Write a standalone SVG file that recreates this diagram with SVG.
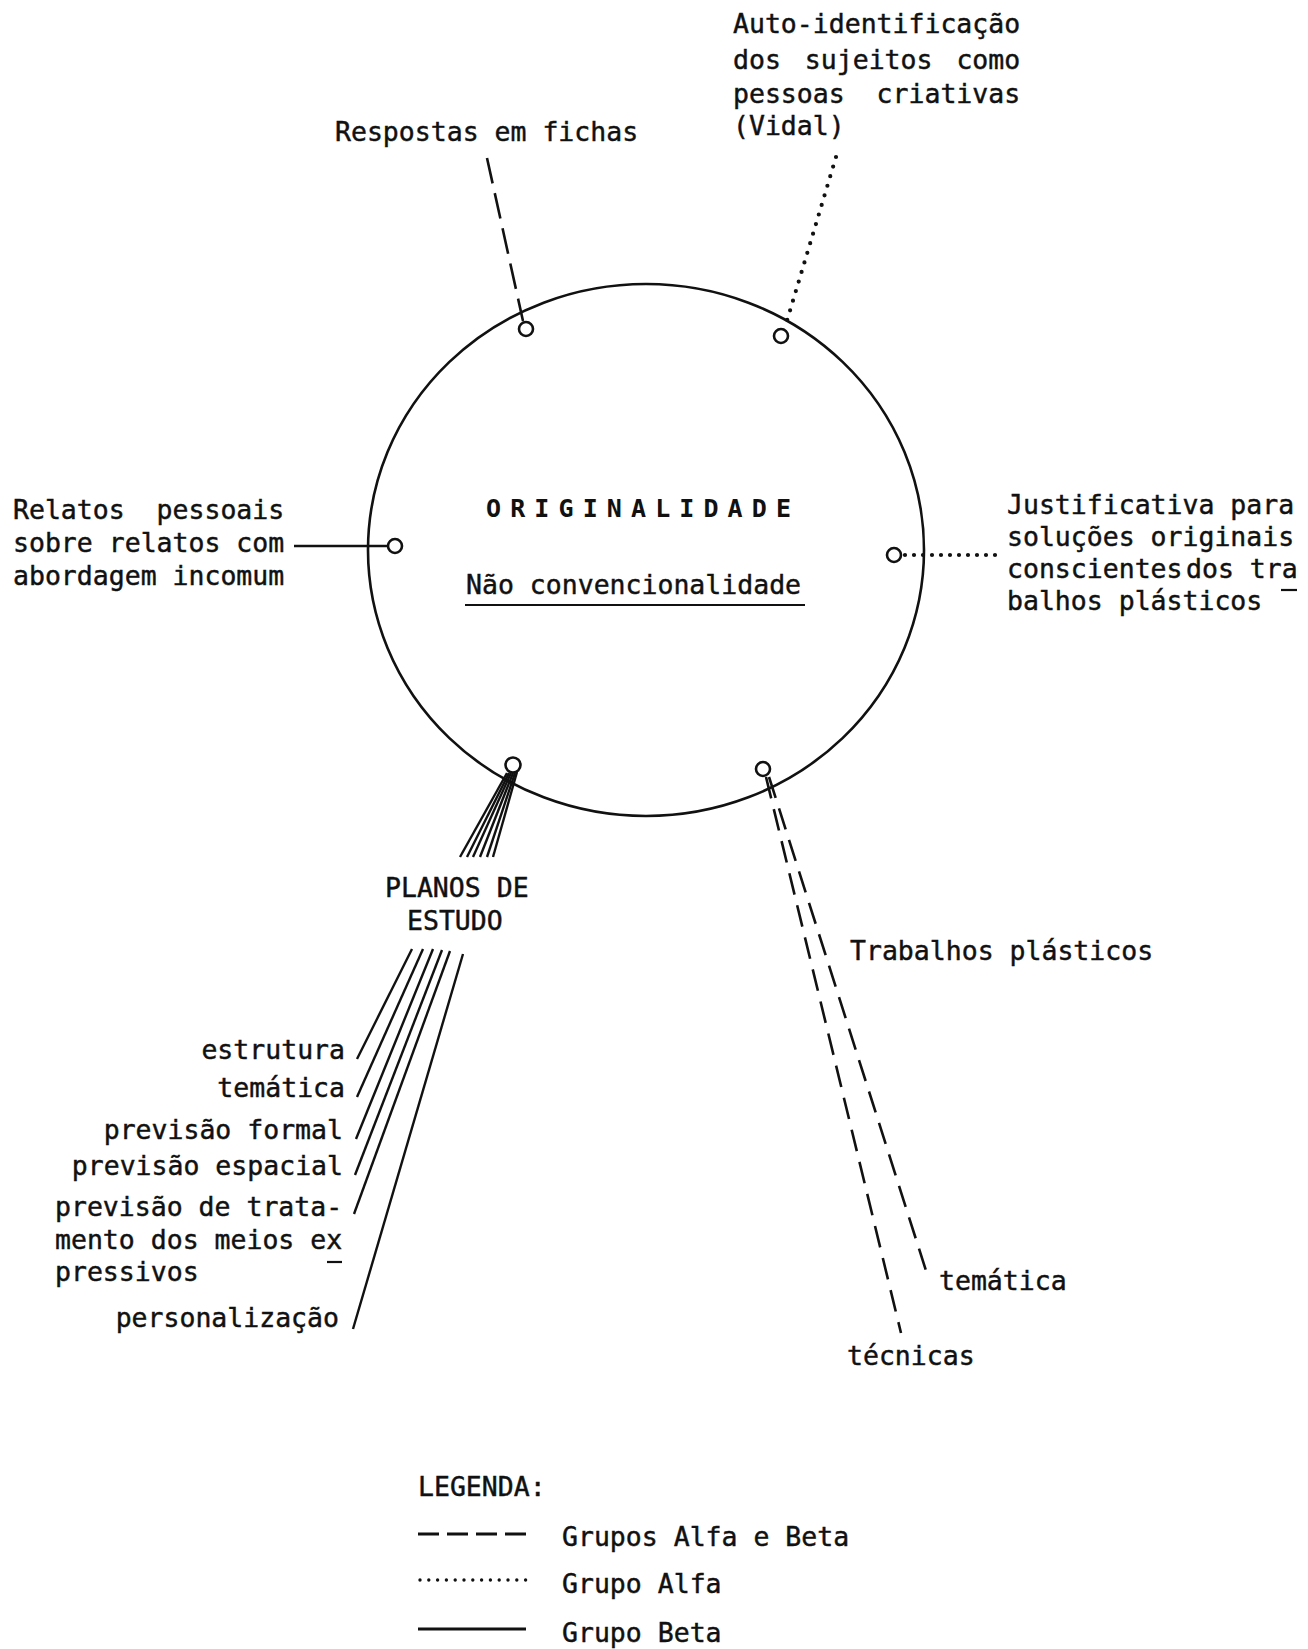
<svg xmlns="http://www.w3.org/2000/svg" width="1308" height="1649" viewBox="0 0 1308 1649">
<style>
text{font-family:"DejaVu Sans Mono","Liberation Mono",monospace;font-size:26.5px;fill:#111;stroke:#111;stroke-width:0.45}
.end{text-anchor:end}
.port{fill:#fff;stroke:#111;stroke-width:2.6}
.main{fill:none;stroke:#111;stroke-width:2.6}
.solid{stroke:#111;stroke-width:2.4;fill:none}
.dash{stroke:#111;stroke-width:2.6;fill:none;stroke-dasharray:26 10}
.dot{stroke:#111;stroke-width:4.2;fill:none;stroke-dasharray:0 10;stroke-linecap:round}
.mark{stroke:#111;stroke-width:2.2}
</style>
<rect width="1308" height="1649" fill="#fff"/>

<g id="connectors">
  <line class="dash" x1="487" y1="158" x2="523" y2="321"/>
  <line class="dot" x1="836" y1="157" x2="786" y2="324"/>
  <line class="solid" x1="294" y1="546" x2="388" y2="546"/>
  <line class="dot" x1="905" y1="555" x2="999" y2="555" style="stroke-dasharray:0 9"/>
  <g class="solid">
    <line x1="507" y1="773" x2="460" y2="857"/>
    <line x1="509" y1="773" x2="467" y2="857"/>
    <line x1="511" y1="773" x2="473" y2="857"/>
    <line x1="513" y1="773" x2="480" y2="857"/>
    <line x1="515" y1="773" x2="487" y2="857"/>
    <line x1="517" y1="772" x2="493" y2="857"/>
    <line x1="412" y1="949" x2="357" y2="1059"/>
    <line x1="423" y1="949" x2="357" y2="1097"/>
    <line x1="433" y1="949" x2="356" y2="1139"/>
    <line x1="442" y1="950" x2="355" y2="1175"/>
    <line x1="450" y1="951" x2="354" y2="1214"/>
    <line x1="463" y1="954" x2="353" y2="1329"/>
  </g>
  <line class="dash" x1="766" y1="777" x2="901" y2="1333" style="stroke-dasharray:22 11"/>
  <line class="dash" x1="769" y1="777" x2="928" y2="1277" style="stroke-dasharray:22 11"/>
</g>

<g id="originalidade">
  <ellipse class="main" cx="646" cy="550" rx="278" ry="266"/>
  <text x="486" y="517" textLength="305" lengthAdjust="spacing" style="font-weight:bold;font-size:25px;stroke-width:0">ORIGINALIDADE</text>
  <text x="466" y="594">Não convencionalidade</text>
  <line class="mark" x1="465" y1="605" x2="805" y2="605"/>
</g>

<g id="respostas">
  <circle class="port" cx="526" cy="329" r="7"/>
  <text x="335" y="141">Respostas em fichas</text>
</g>

<g id="auto-identificacao">
  <circle class="port" cx="781" cy="336" r="7"/>
  <text x="733" y="33">Auto-identificação</text>
  <text x="733" y="69" style="word-spacing:8px">dos sujeitos como</text>
  <text x="733" y="103" xml:space="preserve">pessoas  criativas</text>
  <text x="733" y="135">(Vidal)</text>
</g>

<g id="relatos">
  <circle class="port" cx="395" cy="546" r="7"/>
  <text x="13" y="519" xml:space="preserve">Relatos  pessoais</text>
  <text x="13" y="552">sobre relatos com</text>
  <text x="13" y="585">abordagem incomum</text>
</g>

<g id="justificativa">
  <circle class="port" cx="894" cy="555" r="7"/>
  <text x="1007" y="514">Justificativa para</text>
  <text x="1007" y="546">soluções originais</text>
  <text x="1007" y="578">conscientes<tspan x="1186">dos tra</tspan></text>
  <line class="mark" x1="1281" y1="590" x2="1297" y2="590"/>
  <text x="1007" y="610">balhos plásticos</text>
</g>

<g id="planos">
  <circle class="port" cx="513" cy="765" r="7.5"/>
  <text x="385" y="897">PLANOS DE</text>
  <text x="407" y="930">ESTUDO</text>
</g>

<g id="planos-itens">
  <text class="end" x="345" y="1059">estrutura</text>
  <text class="end" x="345" y="1097">temática</text>
  <text class="end" x="343" y="1139">previsão formal</text>
  <text class="end" x="343" y="1175">previsão espacial</text>
  <text x="55" y="1216">previsão de trata-</text>
  <text x="55" y="1249">mento dos meios ex</text>
  <line class="mark" x1="327" y1="1262" x2="342" y2="1262"/>
  <text x="55" y="1281">pressivos</text>
  <text class="end" x="339" y="1327">personalização</text>
</g>

<g id="trabalhos">
  <circle class="port" cx="763" cy="769" r="7"/>
  <text x="850" y="960">Trabalhos plásticos</text>
  <text x="939" y="1290">temática</text>
  <text x="847" y="1365">técnicas</text>
</g>

<g id="legenda">
  <text x="418" y="1496">LEGENDA:</text>
  <line class="solid" x1="418" y1="1534" x2="526" y2="1534" style="stroke-dasharray:21 8;stroke-width:2.8"/>
  <text x="562" y="1546">Grupos Alfa e Beta</text>
  <line class="dot" x1="420" y1="1580" x2="526" y2="1580" style="stroke-dasharray:0 8.8;stroke-width:3.4"/>
  <text x="562" y="1593">Grupo Alfa</text>
  <line class="solid" x1="418" y1="1629" x2="526" y2="1629" style="stroke-width:2.8"/>
  <text x="562" y="1642">Grupo Beta</text>
</g>
</svg>
